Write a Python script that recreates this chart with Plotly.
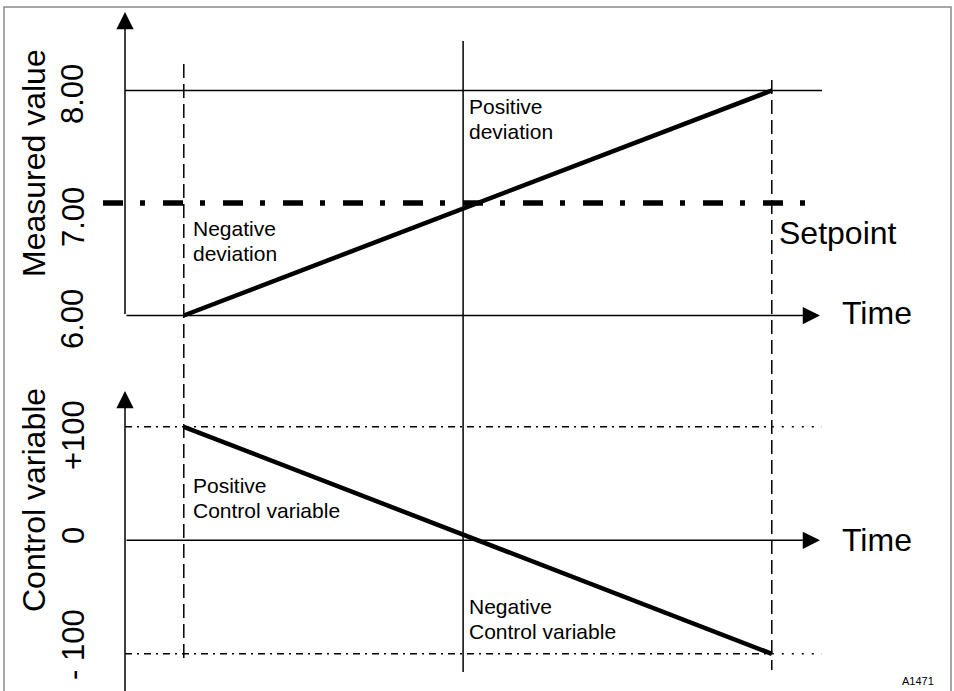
import plotly.graph_objects as go

# ---------------- data ----------------
time_points = [1.0, 5.75, 11.0]          # start, setpoint crossing, end
measured_values = [6.00, 8.00]           # measured value at start / end
setpoint_value = 7.00
control_values = [100, -100]             # control variable at start / end
measured_ticks = [6.00, 7.00, 8.00]
measured_tick_labels = ["6.00", "7.00", "8.00"]
control_ticks = [100, 0, -100]
control_tick_labels = ["+100", "0", "- 100"]

W, H = 954, 691
FONT = "Arial, Liberation Sans, Helvetica, sans-serif"

# pixel <-> data helpers (axes span full figure)
X0PX, XSCALE = 125.0, 58.8
Y_MID_PX, Y_SCALE = 203.0, 112.5      # measured value 7 at pixel 203
Y2_ZERO_PX, Y2_SCALE = 540.3, 1.135   # control 0 at pixel 540.3

def t_of(px):
    return (px - X0PX) / XSCALE

def mv_of(py):
    return 7 + (Y_MID_PX - py) / Y_SCALE

def cv_of(py):
    return (Y2_ZERO_PX - py) / Y2_SCALE

def pxp(px):
    return px / W

def pyp(py):
    return 1 - py / H

fig = go.Figure()

t_start, t_mid, t_end = time_points
t_axis_end = t_of(822)

# 8.00 top reference line
fig.add_trace(go.Scatter(x=[0, t_axis_end], y=[measured_values[1]] * 2, mode="lines",
                         line=dict(color="black", width=1.5), yaxis="y", hoverinfo="skip"))
# setpoint
fig.add_trace(go.Scatter(x=[t_of(103), t_of(818)], y=[setpoint_value] * 2, mode="lines",
                         line=dict(color="black", width=5.5, dash="20px,17px,5px,18px"),
                         yaxis="y", hoverinfo="skip"))
# measured value line
fig.add_trace(go.Scatter(x=[t_start, t_end], y=measured_values, mode="lines",
                         line=dict(color="black", width=4.5), yaxis="y", hoverinfo="skip"))

# control variable limits
for v in [control_values[0], control_values[1]]:
    fig.add_trace(go.Scatter(x=[0, t_end], y=[v, v], mode="lines",
                             line=dict(color="black", width=1.5, dash="7px,5px,2px,5px"),
                             yaxis="y2", hoverinfo="skip"))
    fig.add_trace(go.Scatter(x=[t_end, t_axis_end], y=[v, v], mode="lines",
                             line=dict(color="black", width=1.5, dash="2px,8px"),
                             yaxis="y2", hoverinfo="skip"))
# control variable line
fig.add_trace(go.Scatter(x=[t_start, t_end], y=control_values, mode="lines",
                         line=dict(color="black", width=4.5), yaxis="y2", hoverinfo="skip"))

shapes = []
# vertical time markers
shapes.append(dict(type="line", xref="x", yref="paper", x0=t_start, x1=t_start,
                   y0=pyp(64), y1=pyp(663), line=dict(color="black", width=1.5, dash="14px,6px")))
shapes.append(dict(type="line", xref="x", yref="paper", x0=t_mid, x1=t_mid,
                   y0=pyp(41), y1=pyp(672), line=dict(color="black", width=1.5)))
shapes.append(dict(type="line", xref="x", yref="paper", x0=t_end, x1=t_end,
                   y0=pyp(80), y1=pyp(670), line=dict(color="black", width=1.5, dash="14px,6px")))
# outer frame
shapes.append(dict(type="rect", xref="paper", yref="paper", x0=pxp(4), x1=pxp(951),
                   y0=pyp(700), y1=pyp(7), line=dict(color="#8a8a8a", width=1.5)))

annotations = []

def arrow(x, y, ax, ay, yref):
    annotations.append(dict(x=x, y=y, ax=ax, ay=ay, xref="x", yref=yref, axref="x", ayref=yref,
                            text="", showarrow=True, arrowhead=2, arrowsize=2.3, arrowwidth=1.5,
                            arrowcolor="black"))

# axes with arrow heads
arrow(0, mv_of(12), 0, measured_values[0], "y")
arrow(t_of(820), measured_values[0], 0, measured_values[0], "y")
arrow(0, cv_of(391), 0, cv_of(700), "y2")
arrow(t_of(820), 0, 0, 0, "y2")

def text(s, x, y, size, angle=0, xanchor="center", yanchor="middle"):
    annotations.append(dict(text=s, x=pxp(x), y=pyp(y), xref="paper", yref="paper",
                            showarrow=False, textangle=angle, xanchor=xanchor, yanchor=yanchor,
                            font=dict(family=FONT, size=size, color="black")))

# axis titles
text("Measured value", 34, 163, 32, -90)
text("Control variable", 34, 500, 32, -90)
# tick labels
tick_y_measured = {"8.00": 94, "7.00": 217, "6.00": 319}
for lab in measured_tick_labels:
    text(lab, 73, tick_y_measured[lab], 31, -90)
tick_y_control = {"+100": 435, "0": 536, "- 100": 645}
for lab in control_tick_labels:
    text(lab, 73, tick_y_control[lab], 31, -90)

text("Time", 840, 313, 32, xanchor="left")
text("Time", 840, 540, 32, xanchor="left")
text("Setpoint", 777, 233, 32, xanchor="left")

text("Positive", 467, 106, 21, xanchor="left")
text("deviation", 467, 131, 21, xanchor="left")
text("Negative", 191, 228, 21, xanchor="left")
text("deviation", 191, 253, 21, xanchor="left")
text("Positive", 191, 485, 21, xanchor="left")
text("Control variable", 191, 510, 21, xanchor="left")
text("Negative", 467, 606, 21, xanchor="left")
text("Control variable", 467, 631, 21, xanchor="left")
text("A1471", 918, 681, 11)

fig.update_layout(
    width=W, height=H,
    margin=dict(l=0, r=0, t=0, b=0),
    paper_bgcolor="white", plot_bgcolor="white",
    showlegend=False,
    xaxis=dict(range=[t_of(0), t_of(W)], visible=False, fixedrange=True),
    yaxis=dict(range=[mv_of(H), mv_of(0)], visible=False, fixedrange=True),
    yaxis2=dict(range=[cv_of(H), cv_of(0)], visible=False, overlaying="y", fixedrange=True),
    shapes=shapes,
    annotations=annotations,
)

fig.write_html("out.html",
               config={"displayModeBar": False},
               post_script="document.body.style.margin='0';document.body.style.overflow='hidden';")
